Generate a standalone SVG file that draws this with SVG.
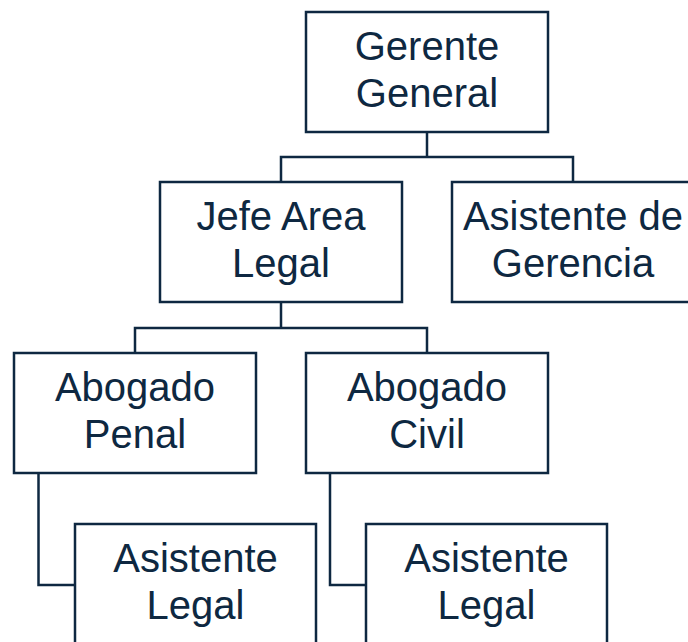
<svg xmlns="http://www.w3.org/2000/svg" width="688" height="642" viewBox="0 0 688 642">
<style>
.box{fill:#ffffff;stroke:#0e2841;stroke-width:2.5}
.con{fill:none;stroke:#0e2841;stroke-width:2.5}
text{font-family:"Liberation Sans",Arial,sans-serif;font-size:40px;fill:#0e2841;text-anchor:middle}
</style>
<rect width="688" height="642" fill="#ffffff"/>
<g id="connectors">
<path class="con" d="M427 132V157M281 182V157H573V182"/>
<path class="con" d="M281 302V328M135 353V328H427V353"/>
<path class="con" d="M38.5 474V585H75"/>
<path class="con" d="M330 474V585H366"/>
</g>
<g id="gerente-general">
<rect class="box" x="306" y="12" width="242" height="120"/>
<text x="427" y="60">Gerente</text>
<text x="427" y="107">General</text>
</g>
<g id="jefe-area-legal">
<rect class="box" x="160" y="182" width="242" height="120"/>
<text x="281" y="230">Jefe Area</text>
<text x="281" y="277">Legal</text>
</g>
<g id="asistente-gerencia">
<rect class="box" x="452" y="182" width="242" height="120"/>
<text x="573" y="230">Asistente de</text>
<text x="573" y="277">Gerencia</text>
</g>
<g id="abogado-penal">
<rect class="box" x="14" y="353" width="242" height="120"/>
<text x="135" y="401">Abogado</text>
<text x="135" y="448">Penal</text>
</g>
<g id="abogado-civil">
<rect class="box" x="306" y="353" width="242" height="120"/>
<text x="427" y="401">Abogado</text>
<text x="427" y="448">Civil</text>
</g>
<g id="asistente-legal-penal">
<rect class="box" x="75" y="524" width="241" height="120"/>
<text x="195.5" y="572">Asistente</text>
<text x="195.5" y="619">Legal</text>
</g>
<g id="asistente-legal-civil">
<rect class="box" x="366" y="524" width="241" height="120"/>
<text x="486.5" y="572">Asistente</text>
<text x="486.5" y="619">Legal</text>
</g>
</svg>
